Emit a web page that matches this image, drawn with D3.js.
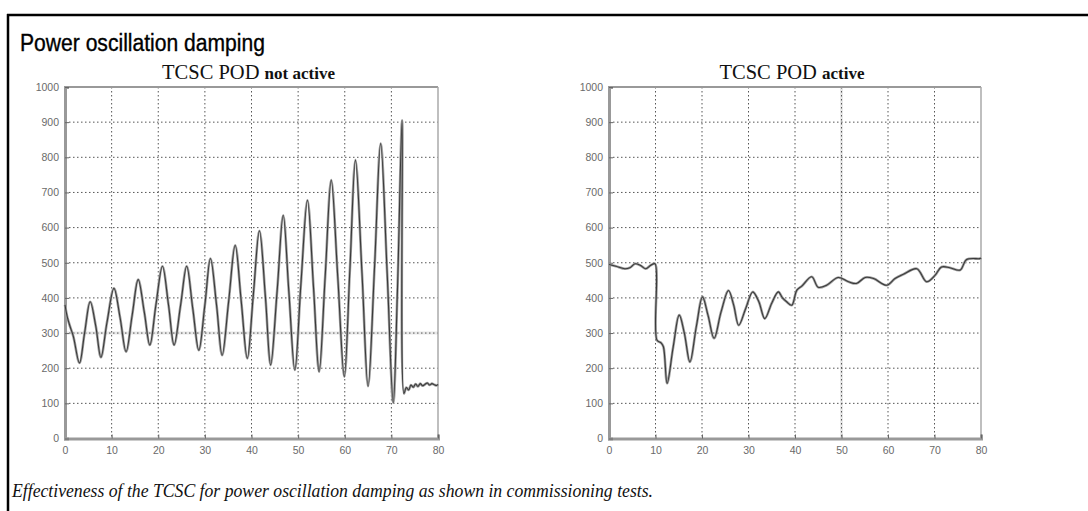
<!DOCTYPE html>
<html>
<head>
<meta charset="utf-8">
<script src="https://cdn.jsdelivr.net/npm/d3@7"></script>
<style>
  html, body { margin: 0; padding: 0; background: #fff; }
  svg { display: block; }
</style>
</head>
<body>
<svg id="chart" width="1088" height="511"></svg>
<script>
// ---------- data ----------
const mainTitle = "Power oscillation damping";
const caption = "Effectiveness of the TCSC for power oscillation damping as shown in commissioning tests.";
const xTicks = [0, 10, 20, 30, 40, 50, 60, 70, 80];
const yTicks = [0, 100, 200, 300, 400, 500, 600, 700, 800, 900, 1000];

// TCSC POD not active : [time, power]
const podOffT = [0, 0.5, 1.1, 1.8, 3.1, 4.2, 5.4, 6.6, 7.7, 9.0, 10.5, 11.8, 13.1, 14.4, 15.7, 17.0, 18.2, 19.5, 20.9, 22.2, 23.4, 24.8, 26.1, 27.4, 28.7, 30.0, 31.2, 32.5, 33.7, 35.1, 36.5, 37.8, 39.1, 40.4, 41.7, 43.0, 44.1, 45.5, 46.8, 48.0, 49.3, 50.6, 52.0, 53.3, 54.5, 55.8, 57.1, 58.5, 59.9, 61.1, 62.3, 63.7, 65.0, 66.4, 67.7, 69.1, 70.4, 71.3, 72.3, 72.7, 73.2, 73.7, 74.2, 74.7, 75.2, 75.7, 76.2, 76.7, 77.2, 77.7, 78.2, 78.7, 79.2, 79.7, 80];
const podOffP = [380, 345, 318, 290, 215, 300, 389, 320, 231, 330, 427, 345, 247, 350, 452, 360, 266, 380, 490, 380, 266, 380, 490, 370, 251, 380, 512, 380, 237, 390, 550, 390, 228, 410, 591, 400, 209, 420, 635, 420, 195, 440, 678, 430, 190, 460, 735, 460, 176, 480, 792, 470, 149, 490, 839, 470, 102, 420, 905, 128, 145, 138, 152, 146, 155, 148, 156, 150, 154, 158, 152, 156, 153, 151, 154];

// TCSC POD active : [time, power]
const podOnT = [0, 1.5, 3.4, 4.5, 5.6, 6.8, 7.9, 9.0, 9.9, 10.3, 11.2, 11.7, 12.5, 13.8, 15.1, 16.2, 17.4, 18.8, 20.1, 21.3, 22.6, 24.1, 25.7, 26.8, 27.9, 29.4, 30.9, 32.2, 33.5, 35.0, 36.4, 37.3, 38.2, 39.3, 40.4, 41.5, 43.6, 45.0, 46.8, 49.3, 51.5, 53.2, 55.1, 56.9, 59.7, 61.5, 63.3, 66.2, 68.3, 70.1, 71.5, 73.3, 75.5, 76.9, 79.8, 80];
const podOnP = [495, 490, 483, 486, 497, 492, 483, 493, 497, 280, 272, 261, 157, 260, 351, 300, 218, 320, 403, 350, 285, 360, 421, 380, 322, 370, 417, 390, 341, 385, 417, 400, 389, 379, 422, 434, 460, 430, 436, 458, 446, 441, 458, 455, 436, 455, 467, 483, 446, 464, 488, 486, 479, 509, 512, 514];

const panelTitles = [
  { big: "TCSC POD", small: "not active" },
  { big: "TCSC POD", small: "active" }
];

// ---------- drawing ----------
const svg = d3.select("#chart");

// outer frame
svg.append("line").attr("x1", 7).attr("x2", 1088).attr("y1", 15).attr("y2", 15)
  .attr("stroke", "#000").attr("stroke-width", 2.5);
svg.append("line").attr("x1", 8).attr("x2", 8).attr("y1", 14).attr("y2", 511)
  .attr("stroke", "#000").attr("stroke-width", 2.5);

svg.append("text").attr("x", 20).attr("y", 51)
  .attr("font-family", "Liberation Sans, Arial, sans-serif")
  .attr("font-size", 23).attr("fill", "#000")
  .attr("stroke", "#000").attr("stroke-width", 0.35)
  .attr("textLength", 245).attr("lengthAdjust", "spacingAndGlyphs")
  .text(mainTitle);

svg.append("text").attr("x", 12).attr("y", 497)
  .attr("font-family", "Liberation Serif, Times New Roman, serif")
  .attr("font-style", "italic")
  .attr("font-size", 18).attr("fill", "#111")
  .attr("textLength", 641).attr("lengthAdjust", "spacingAndGlyphs")
  .text(caption);

const panels = [
  { x0: 65, x1: 438, title: panelTitles[0], T: podOffT, P: podOffP, band: "h" },
  { x0: 609, x1: 981, title: panelTitles[1], T: podOnT, P: podOnP, band: "v" }
];
const yTop = 87, yBot = 438.5;

panels.forEach((p, i) => {
  const x = d3.scaleLinear().domain([0, 80]).range([p.x0, p.x1]);
  const y = d3.scaleLinear().domain([0, 1000]).range([yBot, yTop]);
  const g = svg.append("g");

  // faint artifact bands
  if (p.band === "h") {
    g.append("line").attr("x1", p.x0).attr("x2", p.x1).attr("y1", y(300)).attr("y2", y(300))
      .attr("stroke", "#e8e8e8").attr("stroke-width", 3);
  } else {
    g.append("line").attr("x1", x(50)).attr("x2", x(50)).attr("y1", yTop).attr("y2", yBot)
      .attr("stroke", "#e8e8e8").attr("stroke-width", 3);
  }

  // grid
  g.selectAll(".gx").data(xTicks.filter(d => d > 0 && d < 80)).join("line")
    .attr("x1", d => x(d)).attr("x2", d => x(d)).attr("y1", yTop).attr("y2", yBot)
    .attr("stroke", "#555").attr("stroke-width", 1).attr("stroke-dasharray", "1.5,2.5");
  g.selectAll(".gy").data(yTicks.filter(d => d > 0 && d < 1000)).join("line")
    .attr("x1", p.x0).attr("x2", p.x1).attr("y1", d => y(d)).attr("y2", d => y(d))
    .attr("stroke", "#555").attr("stroke-width", 1).attr("stroke-dasharray", "1.5,2.5");

  // frame
  g.append("line").attr("x1", p.x0).attr("x2", p.x1).attr("y1", yTop).attr("y2", yTop)
    .attr("stroke", "#999").attr("stroke-width", 2);
  g.append("line").attr("x1", p.x1).attr("x2", p.x1).attr("y1", yTop).attr("y2", yBot)
    .attr("stroke", "#aaa").attr("stroke-width", 1.5);

  // axes
  const ax = d3.axisBottom(x).tickValues(xTicks).tickFormat(d3.format("d")).tickSize(-4).tickPadding(8);
  const ay = d3.axisLeft(y).tickValues(yTicks).tickFormat(d3.format("d")).tickSize(-4).tickPadding(6);
  const gx = g.append("g").attr("transform", `translate(0,${yBot})`).call(ax);
  const gy = g.append("g").attr("transform", `translate(${p.x0},0)`).call(ay);
  [gx, gy].forEach(a => {
    a.select(".domain").attr("stroke", "#999").attr("stroke-width", 3);
    a.selectAll(".tick line").attr("stroke", "#666").attr("stroke-width", 1);
    a.selectAll("text").attr("fill", "#6a6a6a").attr("font-size", 10.5)
      .attr("font-family", "Liberation Sans, Arial, sans-serif");
  });

  // data line
  const data = p.T.map((t, k) => [t, p.P[k]]);
  const line = d3.line().x(d => x(d[0])).y(d => y(d[1])).curve(d3.curveCatmullRom.alpha(0.5));
  g.append("path").datum(data).attr("d", line)
    .attr("fill", "none").attr("stroke", "#a0a0a0").attr("stroke-width", 2.6);
  g.append("path").datum(data).attr("d", line)
    .attr("fill", "none").attr("stroke", "#3a3a3a").attr("stroke-width", 1.1);

  // panel title
  const t = svg.append("text").attr("x", (p.x0 + p.x1) / 2 - 3).attr("y", 79)
    .attr("text-anchor", "middle").attr("font-family", "Liberation Serif, Times New Roman, serif")
    .attr("fill", "#111");
  t.append("tspan").attr("font-size", 20.5).text(p.title.big + " ");
  t.append("tspan").attr("font-size", 17).attr("font-weight", "bold").text(p.title.small);
});
</script>
</body>
</html>
